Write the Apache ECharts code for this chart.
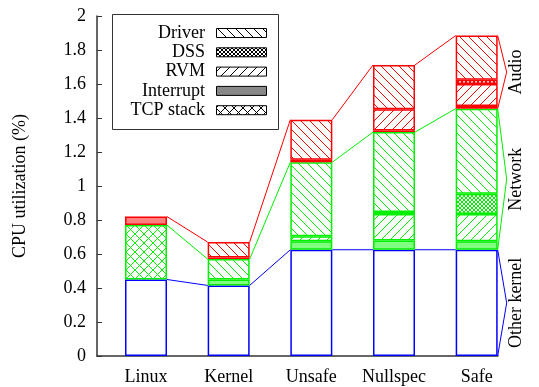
<!DOCTYPE html>
<html><head><meta charset="utf-8">
<script src="https://cdn.jsdelivr.net/npm/echarts@6/dist/echarts.min.js"></script>
<style>html,body{margin:0;padding:0;background:#fff}#c{width:539px;height:387px}</style>
</head><body><div id="c"></div>
<script>
// ---- data ----
const categories = ['Linux', 'Kernel', 'Unsafe', 'Nullspec', 'Safe'];
const yTickMin = 0, yTickMax = 2, yTickStep = 0.2;
const otherKernel  = [0.45, 0.415, 0.625, 0.625, 0.625];
const netInterrupt = [0, 0.035, 0.05, 0.055, 0.05];
const netTcp       = [0.32, 0, 0, 0, 0];
const netRvm       = [0, 0, 0.03, 0.155, 0.16];
const netDss       = [0, 0, 0, 0.012, 0.12];
const netDriver    = [0, 0.12, 0.435, 0.47, 0.50];
const audInterrupt = [0.05, 0.01, 0.015, 0.01, 0.015];
const audRvm       = [0, 0, 0, 0.125, 0.13];
const audDss       = [0, 0, 0, 0, 0.025];
const audDriver    = [0, 0.09, 0.235, 0.26, 0.26];
const groupLabels  = ['Other kernel', 'Network', 'Audio'];
const legendNames  = ['Driver', 'DSS', 'RVM', 'Interrupt', 'TCP stack'];
const yAxisName    = 'CPU utilization (%)';

// ---- styling ----
const FONT = 'Liberation Serif';
const BLUE = '#0000ff', GREEN = '#00f000', RED = '#ff0000';
const BAR_W = 42;
const TOP = 16, BOTTOM = 31;
const AX_LEFT = 97, AX_RIGHT = 41;          // visible axes frame
const BAND = 82.67;                          // category spacing in px
const FIRST_CENTER = 146;                    // px of first category centre

function tile(type, color, bg) {
  const s = type === 'dss' ? 4 : 9;
  const cv = document.createElement('canvas');
  cv.width = s; cv.height = s;
  const g = cv.getContext('2d');
  g.fillStyle = bg; g.fillRect(0, 0, s, s);
  g.strokeStyle = color; g.lineWidth = 1;
  const back = () => { for (const o of [-s, 0, s]) { g.beginPath(); g.moveTo(o, 0); g.lineTo(o + s, s); g.stroke(); } };
  const fwd = () => { for (const o of [-s, 0, s]) { g.beginPath(); g.moveTo(o, s); g.lineTo(o + s, 0); g.stroke(); } };
  if (type === 'driver') back();
  else if (type === 'rvm') fwd();
  else if (type === 'tcp' || type === 'dss') { back(); fwd(); }
  return { image: cv, repeat: 'repeat' };
}

function barSeries(name, arr, fill, border) {
  return {
    type: 'bar', name, stack: 'total', barWidth: BAR_W, silent: true,
    xAxisIndex: 0, yAxisIndex: 0,
    data: arr.map(v => (v > 0 ? v : '-')),
    itemStyle: { color: fill, borderColor: border, borderWidth: 1.5 }
  };
}

const sumAt = (arrs, i) => arrs.reduce((s, a) => s + a[i], 0);
const otherTop = categories.map((_, i) => otherKernel[i]);
const netTop = categories.map((_, i) => otherTop[i] + sumAt([netInterrupt, netTcp, netRvm, netDss, netDriver], i));
const audTop = categories.map((_, i) => netTop[i] + sumAt([audInterrupt, audRvm, audDss, audDriver], i));

function connector(tops, color) {
  return {
    type: 'custom', silent: true, z: 5, xAxisIndex: 0, yAxisIndex: 0,
    data: tops.slice(0, -1).map((t, i) => [i, t, tops[i + 1]]),
    renderItem: (params, api) => {
      const i = api.value(0);
      const p1 = api.coord([i, api.value(1)]);
      const p2 = api.coord([i + 1, api.value(2)]);
      const hw = BAR_W / 2;
      return { type: 'line', shape: { x1: p1[0] + hw, y1: p1[1], x2: p2[0] - hw, y2: p2[1] },
               style: { stroke: color, lineWidth: 1 } };
    }
  };
}

const last = categories.length - 1;
const braceColors = [BLUE, GREEN, RED];
const braceSeries = {
  type: 'custom', silent: true, z: 5, xAxisIndex: 0, yAxisIndex: 0,
  data: [[last, 0, otherTop[last]], [last, otherTop[last], netTop[last]], [last, netTop[last], audTop[last]]],
  renderItem: (params, api) => {
    const x = api.value(0);
    const pl = api.coord([x, api.value(1)]);
    const ph = api.coord([x, api.value(2)]);
    const xr = pl[0] + BAR_W / 2, ym = (pl[1] + ph[1]) / 2;
    return { type: 'group', children: [
      { type: 'polyline', shape: { points: [[xr, pl[1]], [xr + 9, ym], [xr, ph[1]]] },
        style: { stroke: braceColors[params.dataIndex], fill: null, lineWidth: 1 } },
      { type: 'text', x: xr + 19, y: ym, rotation: Math.PI / 2,
        style: { text: groupLabels[params.dataIndex], fill: '#000', font: '18px "' + FONT + '"',
                 align: 'center', verticalAlign: 'middle' } }
    ]};
  }
};

// legend (graphic)
const legendTiles = [tile('driver', '#000', '#fff'), tile('dss', '#000', '#fff'), tile('rvm', '#000', '#fff'),
                     '#888888', tile('tcp', '#000', '#fff')];
const legendEls = [{ type: 'rect', shape: { x: 112.5, y: 14.5, width: 166, height: 115 },
                     style: { fill: '#fff', stroke: '#333', lineWidth: 1 }, z: 10 }];
legendNames.forEach((n, k) => {
  const cy = 33 + k * 19.3;
  legendEls.push({ type: 'text', x: 205, y: cy, z: 11,
    style: { text: n, fill: '#000', font: '18px "' + FONT + '"', align: 'right', verticalAlign: 'middle' } });
  legendEls.push({ type: 'rect', shape: { x: 216.5, y: cy - 4.5, width: 50, height: 9 }, z: 11,
    style: { fill: legendTiles[k], stroke: '#000', lineWidth: 1 } });
});

// geometry of the bar grid so that category centres line up with the visible axis
const barGridLeft = FIRST_CENTER - BAND / 2;
const barGridRight = 539 - (barGridLeft + BAND * categories.length);
const axisWidth = 539 - AX_LEFT - AX_RIGHT;
const axMin = -(FIRST_CENTER - AX_LEFT) / BAND;
const axMax = axMin + axisWidth / BAND;

const chart = echarts.init(document.getElementById('c'), null, { renderer: 'canvas' });
chart.setOption({
  animation: false,
  backgroundColor: '#fff',
  grid: [
    { left: barGridLeft, right: barGridRight, top: TOP, bottom: BOTTOM },
    { left: AX_LEFT, right: AX_RIGHT, top: TOP, bottom: BOTTOM }
  ],
  xAxis: [
    { type: 'category', gridIndex: 0, data: categories, show: false },
    {
      type: 'value', gridIndex: 1, min: axMin, max: axMax, splitLine: { show: false },
      axisLine: { onZero: false, lineStyle: { color: '#333', width: 1.5 } },
      axisTick: { inside: true, length: 4, customValues: categories.map((_, i) => i), lineStyle: { color: '#333' } },
      axisLabel: { customValues: categories.map((_, i) => i), formatter: v => categories[Math.round(v)],
                   color: '#000', fontFamily: FONT, fontSize: 18, margin: 12 }
    }
  ],
  yAxis: [
    { type: 'value', gridIndex: 0, min: yTickMin, max: yTickMax, show: false, splitLine: { show: false } },
    {
      type: 'value', gridIndex: 1, min: yTickMin, max: yTickMax, interval: yTickStep,
      name: yAxisName, nameLocation: 'middle', nameGap: 68,
      nameTextStyle: { color: '#000', fontFamily: FONT, fontSize: 18 },
      splitLine: { show: false },
      axisLine: { show: true, onZero: false, lineStyle: { color: '#333', width: 1.5 } },
      axisTick: { show: true, inside: true, length: 5, lineStyle: { color: '#333' } },
      axisLabel: { color: '#000', fontFamily: FONT, fontSize: 18, margin: 11,
                   formatter: v => String(Math.round(v * 10) / 10) }
    }
  ],
  graphic: legendEls,
  series: [
    barSeries('Other kernel', otherKernel, '#fff', BLUE),
    barSeries('Net Interrupt', netInterrupt, '#80ff80', GREEN),
    barSeries('Net TCP stack', netTcp, tile('tcp', GREEN, '#fff'), GREEN),
    barSeries('Net RVM', netRvm, tile('rvm', GREEN, '#fff'), GREEN),
    barSeries('Net DSS', netDss, tile('dss', GREEN, '#fff'), GREEN),
    barSeries('Net Driver', netDriver, tile('driver', GREEN, '#fff'), GREEN),
    barSeries('Audio Interrupt', audInterrupt, '#ff8080', RED),
    barSeries('Audio RVM', audRvm, tile('rvm', RED, '#fff'), RED),
    barSeries('Audio DSS', audDss, tile('dss', RED, '#fff'), RED),
    barSeries('Audio Driver', audDriver, tile('driver', RED, '#fff'), RED),
    connector(otherTop, BLUE),
    connector(netTop, GREEN),
    connector(audTop, RED),
    braceSeries
  ]
});
</script>
</body></html>
